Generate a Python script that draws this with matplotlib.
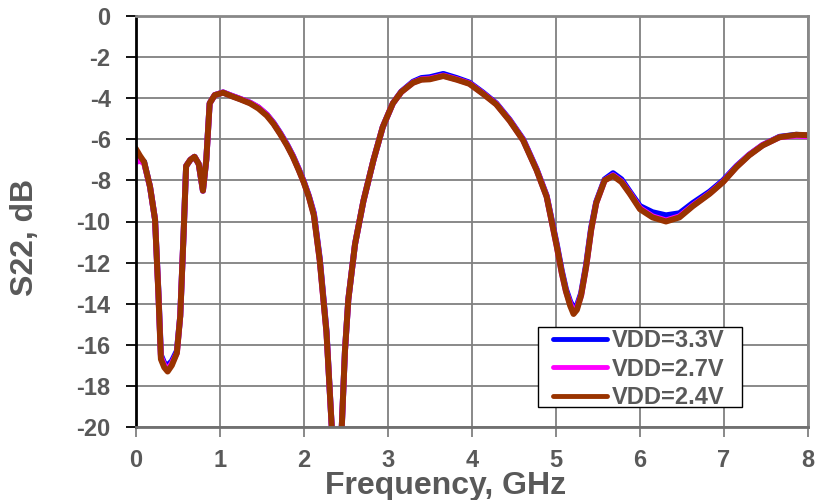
import matplotlib
matplotlib.use("Agg")
import matplotlib.pyplot as plt
from matplotlib.patches import Rectangle

plt.rcParams['font.family'] = ['Liberation Sans', 'DejaVu Sans']
plt.rcParams['font.weight'] = 'bold'

TEXT = '#595959'

# Frequency sweep (GHz)
freq = [0.00, 0.05, 0.10, 0.17, 0.23, 0.27, 0.30, 0.34, 0.38, 0.43, 0.49, 0.53,
        0.57, 0.60, 0.65, 0.70, 0.75, 0.80, 0.84, 0.88, 0.94, 1.04, 1.14, 1.24,
        1.36, 1.46, 1.56, 1.64, 1.72, 1.80, 1.87, 1.94, 2.00, 2.06, 2.12, 2.19,
        2.27, 2.33, 2.39, 2.45, 2.49, 2.53, 2.61, 2.71, 2.83, 2.94, 3.06, 3.16,
        3.30, 3.40, 3.50, 3.66, 3.82, 3.97, 4.13, 4.29, 4.45, 4.61, 4.77, 4.89,
        5.01, 5.07, 5.12, 5.17, 5.21, 5.25, 5.30, 5.36, 5.42, 5.48, 5.58, 5.68,
        5.78, 5.88, 6.00, 6.15, 6.31, 6.47, 6.63, 6.83, 6.99, 7.15, 7.30, 7.46,
        7.66, 7.86, 8.00]

# S22 (dB) for each supply voltage
s22_33 = [-6.80, -6.95, -7.10, -8.30, -9.90, -13.4, -16.5, -16.9, -17.0, -16.8,
          -16.3, -14.6, -10.6, -7.30, -7.00, -6.85, -7.20, -8.50, -7.00, -4.25,
          -3.85, -3.72, -3.88, -4.03, -4.22, -4.45, -4.80, -5.20, -5.70, -6.25,
          -6.80, -7.45, -8.05, -8.75, -9.60, -11.8, -15.3, -19.8, -24.0, -20.2,
          -16.3, -13.8, -11.1, -9.00, -7.00, -5.40, -4.25, -3.68, -3.20, -3.02,
          -2.98, -2.82, -3.02, -3.24, -3.72, -4.25, -5.05, -6.00, -7.45, -8.75,
          -11.1, -12.4, -13.3, -13.9, -14.2, -14.1, -13.5, -12.1, -10.3, -9.05,
          -7.95, -7.65, -7.95, -8.55, -9.25, -9.55, -9.70, -9.60, -9.10, -8.55,
          -8.00, -7.30, -6.75, -6.28, -5.88, -5.78, -5.82]

s22_27 = [-7.10, -7.05, -7.15, -8.30, -9.90, -13.5, -16.6, -17.0, -17.2, -16.9,
          -16.4, -14.6, -10.6, -7.30, -7.00, -6.85, -7.20, -8.50, -7.00, -4.25,
          -3.85, -3.72, -3.88, -4.03, -4.22, -4.45, -4.80, -5.22, -5.72, -6.27,
          -6.82, -7.47, -8.08, -8.78, -9.65, -11.9, -15.4, -19.8, -24.0, -20.2,
          -16.3, -13.8, -11.1, -9.00, -7.00, -5.40, -4.25, -3.70, -3.24, -3.08,
          -3.05, -2.90, -3.08, -3.28, -3.76, -4.28, -5.08, -6.03, -7.48, -8.78,
          -11.2, -12.5, -13.4, -14.0, -14.4, -14.2, -13.6, -12.2, -10.4, -9.10,
          -8.00, -7.75, -8.05, -8.62, -9.35, -9.75, -9.95, -9.75, -9.22, -8.63,
          -8.06, -7.33, -6.76, -6.28, -5.90, -5.82, -5.85]

s22_24 = [-6.45, -6.80, -7.10, -8.30, -9.90, -13.5, -16.7, -17.1, -17.3, -17.0,
          -16.4, -14.6, -10.6, -7.30, -7.00, -6.85, -7.20, -8.50, -7.00, -4.25,
          -3.85, -3.73, -3.90, -4.05, -4.25, -4.50, -4.85, -5.25, -5.75, -6.30,
          -6.85, -7.50, -8.10, -8.80, -9.70, -11.9, -15.4, -19.8, -24.0, -20.2,
          -16.3, -13.8, -11.1, -9.00, -7.00, -5.40, -4.25, -3.70, -3.25, -3.10,
          -3.08, -2.92, -3.10, -3.30, -3.78, -4.30, -5.10, -6.05, -7.50, -8.80,
          -11.2, -12.5, -13.4, -14.1, -14.5, -14.3, -13.6, -12.2, -10.4, -9.10,
          -8.00, -7.78, -8.08, -8.65, -9.40, -9.80, -10.0, -9.80, -9.25, -8.65,
          -8.08, -7.35, -6.78, -6.30, -5.90, -5.78, -5.80]

labels = ['VDD=3.3V', 'VDD=2.7V', 'VDD=2.4V']
colors = ['#0000FF', '#FF00FF', '#993300']

x_ticks = [0, 1, 2, 3, 4, 5, 6, 7, 8]
y_ticks = [0, -2, -4, -6, -8, -10, -12, -14, -16, -18, -20]

W, H = 825, 500
fig = plt.figure(figsize=(W / 100, H / 100), dpi=100)
ax = fig.add_axes([135.7 / W, 1 - 427 / H, (808 - 135.7) / W, (427 - 16) / H])

for ys, lab, col in zip([s22_33, s22_27, s22_24], labels, colors):
    ax.plot(freq, ys, color=col, lw=4.3, label=lab, solid_joinstyle='round',
            solid_capstyle='round')

ax.set_xlim(0, 8)
ax.set_ylim(-20, 0)
ax.set_xticks(x_ticks)
ax.set_yticks(y_ticks)
ax.set_xticklabels([str(v) for v in x_ticks])
ax.set_yticklabels([str(v) for v in y_ticks])

ax.grid(True, color='#808080', lw=1.3)
ax.set_axisbelow(True)

for side, col in [('left', '#000000'), ('bottom', '#707070'),
                  ('top', '#888888'), ('right', '#888888')]:
    ax.spines[side].set_color(col)
    ax.spines[side].set_linewidth(2.0)

ax.tick_params(axis='y', direction='out', length=7, width=1.3, color='#000000',
               labelsize=17, labelcolor=TEXT, pad=11)
ax.tick_params(axis='x', direction='out', length=7, width=1.3, color='#808080',
               labelsize=17, labelcolor=TEXT, pad=8.5)
for t in ax.get_xticklabels() + ax.get_yticklabels():
    t.set_fontweight('bold')

fig.text(446 / W, 1 - 494 / H, 'Frequency, GHz', ha='center', va='baseline',
         fontsize=23, fontweight='bold', color=TEXT)
fig.text(25 / W, 1 - 237.5 / H, 'S22, dB', ha='center', va='center',
         rotation=90, fontsize=23, fontweight='bold', color=TEXT)

# Legend box drawn separately so its padding can be set freely
ax.add_patch(Rectangle((538 / W, 1 - 407 / H), (742 - 538) / W, 80 / H,
                       transform=fig.transFigure, facecolor='white',
                       edgecolor='#000000', lw=1.0, zorder=4, clip_on=False))
leg = ax.legend(loc='upper left', bbox_to_anchor=(553 / W, 1 - 329 / H),
                bbox_transform=fig.transFigure, borderaxespad=0, frameon=False,
                handlelength=2.3, handletextpad=0.2, labelspacing=0.24,
                borderpad=0, prop={'weight': 'bold', 'size': 17})
leg.set_zorder(5)
for txt in leg.get_texts():
    txt.set_color(TEXT)
for line in leg.get_lines():
    line.set_linewidth(3.5)

fig.savefig('out.png', dpi=100)
